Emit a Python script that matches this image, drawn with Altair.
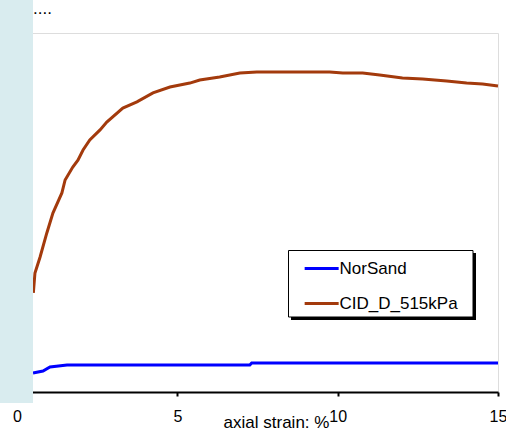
import altair as alt
import pandas as pd

# ---- data ----
cid_strain = [0.51, 0.56, 0.72, 0.93, 1.12, 1.40, 1.50, 1.74, 1.90, 2.06, 2.27, 2.59, 2.80,
              3.30, 3.74, 4.24, 4.77, 5.39, 5.70, 6.32, 6.95, 7.48, 9.75, 10.16, 10.78,
              11.31, 12.02, 12.65, 13.40, 14.02, 14.52, 15.0]
cid_value = [0.552, 0.663, 0.752, 0.886, 0.997, 1.109, 1.181, 1.253, 1.292, 1.348, 1.404,
             1.460, 1.504, 1.582, 1.616, 1.666, 1.699, 1.721, 1.738, 1.755, 1.777, 1.783,
             1.783, 1.777, 1.777, 1.766, 1.749, 1.744, 1.733, 1.721, 1.716, 1.705]

nor_strain = [0.50, 0.81, 1.03, 1.56, 7.26, 7.32, 15.0]
nor_value = [0.106, 0.117, 0.139, 0.150, 0.150, 0.162, 0.162]

series_names = ["NorSand", "CID_D_515kPa"]
series_colors = ["#0000FF", "#A33A0C"]
x_ticks = [0, 5, 10, 15]
corner_text = ["...."]

df = pd.concat([
    pd.DataFrame({"strain": nor_strain, "value": nor_value, "series": series_names[0], "order": range(len(nor_strain))}),
    pd.DataFrame({"strain": cid_strain, "value": cid_value, "series": series_names[1], "order": range(len(cid_strain))}),
])
one = pd.DataFrame({"t": corner_text})

FONT = "Liberation Sans"

lines = alt.Chart(df).mark_line(strokeWidth=3).encode(
    x=alt.X("strain:Q", scale=alt.Scale(domain=[0, 15], nice=False),
            axis=alt.Axis(values=x_ticks, title="axial strain: %", grid=False,
                          domainColor="black", domainWidth=2, tickColor="black",
                          tickWidth=2, tickSize=4, labelFontSize=16, labelFont=FONT,
                          labelColor="black", labelPadding=12, labelFlush=False,
                          labelOverlap=False,
                          titleFontSize=17, titleFont=FONT, titleFontWeight="normal",
                          titleColor="black", titleX=259, titleY=35,
                          titleBaseline="alphabetic", titleAlign="center")),
    y=alt.Y("value:Q", scale=alt.Scale(domain=[0, 2], nice=False), axis=None),
    color=alt.Color("series:N", scale=alt.Scale(domain=series_names, range=series_colors),
                    legend=alt.Legend(orient="none", legendX=271, legendY=218, title=None,
                                      strokeColor="transparent", fillColor="transparent",
                                      padding=7.5,
                                      symbolType="M-0.1,0H3.9", symbolSize=289,
                                      symbolStrokeWidth=3, labelOffset=24,
                                      labelFontSize=17, labelFont=FONT, labelColor="black",
                                      rowPadding=17)),
    order="order:Q",
)

# legend frame with drop shadow (decoration behind the legend entries)
shadow = alt.Chart(one).mark_rect(color="black").encode(
    x=alt.value(274), x2=alt.value(459), y=alt.value(220), y2=alt.value(287)
)
frame = alt.Chart(one).mark_rect(fill="white", stroke="black", strokeWidth=1).encode(
    x=alt.value(271.5), x2=alt.value(456), y=alt.value(217.5), y2=alt.value(284)
)

panel = alt.Chart(one).mark_rect(color="#D9ECEF").encode(
    x=alt.value(-17), x2=alt.value(16), y=alt.value(-33), y2=alt.value(370)
)

dots = alt.Chart(one).mark_text(align="left", baseline="alphabetic",
                                fontSize=17, font=FONT, color="black").encode(
    text="t:N", x=alt.value(16), y=alt.value(-19)
)

chart = alt.layer(lines, shadow, frame, panel, dots).properties(
    width=481, height=359, autosize="none",
    padding={"left": 17, "top": 33, "right": 8, "bottom": 39},
).configure_view(stroke="#999999", strokeWidth=2).configure(background="white")

chart.save("out.html", embed_options={"renderer": "svg", "actions": False})
